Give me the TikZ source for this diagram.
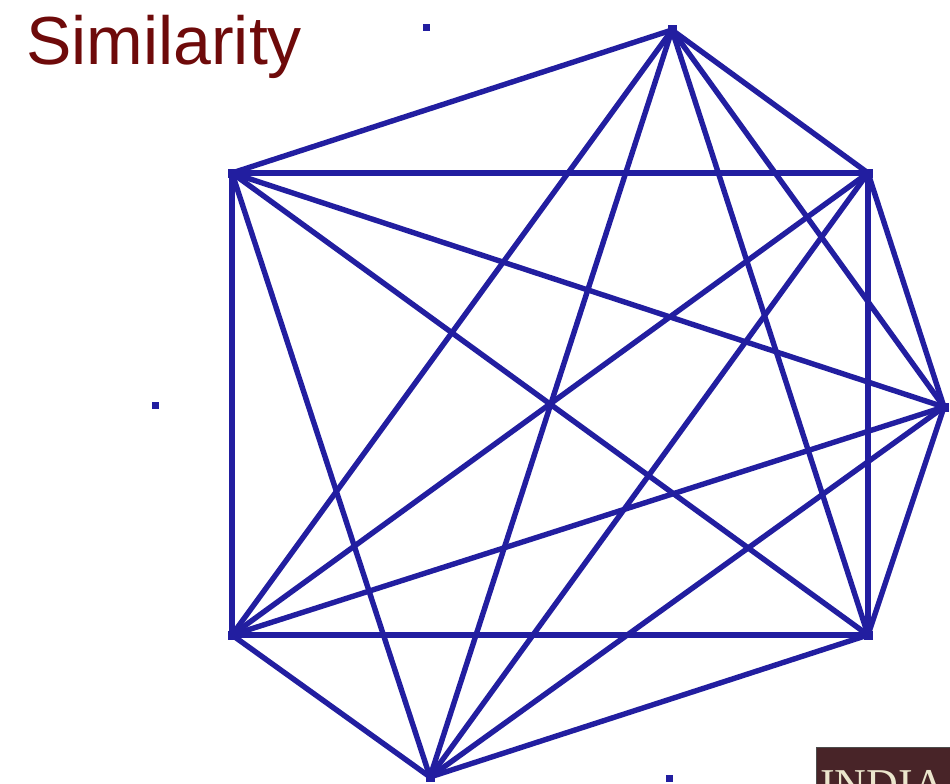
\documentclass[tikz,border=0pt]{standalone}
\usepackage{fontspec}
\setmainfont{Liberation Sans}
\newfontfamily\serifface{Liberation Serif}
\definecolor{edgeblue}{RGB}{34,30,160}
\definecolor{titlered}{RGB}{110,10,10}
\definecolor{badgebrown}{RGB}{72,36,40}
\definecolor{badgetext}{RGB}{235,230,205}
\tikzset{
  edge/.style={draw=edgeblue, line width=5.4pt, line cap=round, line join=round},
  vmark/.style={fill=edgeblue, minimum size=9pt, inner sep=0pt, rectangle},
  speck/.style={fill=edgeblue, minimum size=7pt, inner sep=0pt, rectangle},
}
\begin{document}
\begin{tikzpicture}[x=1pt,y=-1pt]
\useasboundingbox (0,0) rectangle (950,784);
\fill[white] (0,0) rectangle (950,784);
% title
\node[anchor=base west, text=titlered, font=\fontsize{68}{68}\selectfont, inner sep=0pt] (title) at (26,65) {Similarity};
% vertices
\coordinate (A) at (232,173);
\coordinate (B) at (672,30);
\coordinate (C) at (868,173);
\coordinate (D) at (944,407);
\coordinate (E) at (868,635);
\coordinate (F) at (430,777);
\coordinate (G) at (232,635);
% complete graph K7
\foreach \u/\v in {A/B,A/C,A/D,A/E,A/F,A/G,
                   B/C,B/D,B/E,B/F,B/G,
                   C/D,C/E,C/F,C/G,
                   D/E,D/F,D/G,
                   E/F,E/G,
                   F/G}
  \draw[edge] (\u) -- (\v);
\foreach \p in {A,B,C,D,E,F,G}
  \node[vmark] (m\p) at (\p) {};
% stray specks
\node[speck] (s1) at (426,28) {};
\node[speck] (s2) at (155,405) {};
\node[speck] (s3) at (669,778) {};
% badge
\begin{scope}
\clip (816,747) rectangle (950,784);
\fill[badgebrown, draw=black!70, line width=1pt] (816,747) rectangle (960,800);
\node[anchor=base west, text=badgetext, font=\serifface\fontsize{44}{44}\selectfont, inner sep=0pt] (badge) at (820,799) {INDIA};
\end{scope}
\end{tikzpicture}
\end{document}
